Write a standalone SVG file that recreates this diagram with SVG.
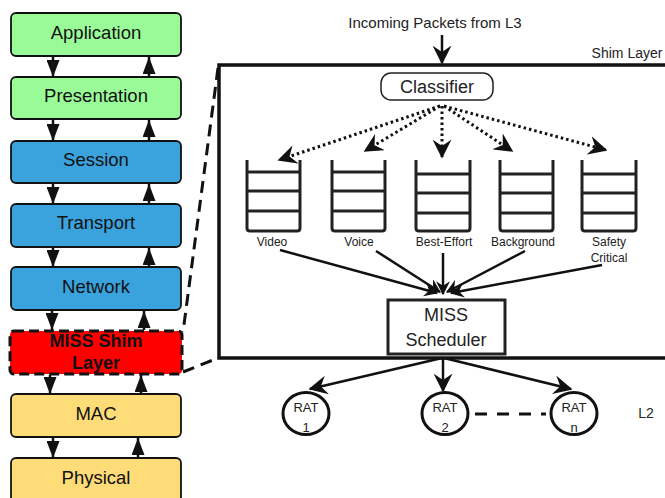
<svg xmlns="http://www.w3.org/2000/svg" width="665" height="498" viewBox="0 0 665 498">
<defs>
<style>
.lay{stroke:#111;stroke-width:1.8}
.lt{font-family:"Liberation Sans",Arial,sans-serif;font-size:18.5px;fill:#111;text-anchor:middle}
.rt{font-family:"Liberation Sans",Arial,sans-serif;fill:#222;text-anchor:middle}
.q{fill:none;stroke:#222;stroke-width:3;stroke-linejoin:round}
.ar{stroke:#111;stroke-width:2.5;fill:none}
.dot{stroke:#111;stroke-width:3;fill:none;stroke-dasharray:2.5,3}
</style>
<marker id="tri" viewBox="0 0 17 13" refX="17" refY="6.5" markerWidth="17" markerHeight="13" markerUnits="userSpaceOnUse" orient="auto"><path d="M0,0 L17,6.5 L0,13 z" fill="#111"/></marker>
<marker id="barb" viewBox="0 0 12 12" refX="11" refY="6" markerWidth="19" markerHeight="19" markerUnits="userSpaceOnUse" orient="auto"><path d="M0,0 L12,6 L0,12 L4,6 z" fill="#111"/></marker>
<marker id="barbs" viewBox="0 0 12 12" refX="11" refY="6" markerWidth="14" markerHeight="14" markerUnits="userSpaceOnUse" orient="auto"><path d="M0,0 L12,6 L0,12 L4,6 z" fill="#111"/></marker>
</defs>
<rect width="665" height="498" fill="#fff"/>

<g id="connectors">
<line class="ar" x1="53" y1="57" x2="53" y2="77" marker-end="url(#tri)"/>
<line class="ar" x1="149" y1="77" x2="149" y2="57" marker-end="url(#tri)"/>
<line class="ar" x1="53" y1="120" x2="53" y2="141" marker-end="url(#tri)"/>
<line class="ar" x1="149" y1="141" x2="149" y2="120" marker-end="url(#tri)"/>
<line class="ar" x1="53" y1="184" x2="53" y2="204" marker-end="url(#tri)"/>
<line class="ar" x1="149" y1="204" x2="149" y2="184" marker-end="url(#tri)"/>
<line class="ar" x1="53" y1="248" x2="53" y2="267" marker-end="url(#tri)"/>
<line class="ar" x1="149" y1="267" x2="149" y2="248" marker-end="url(#tri)"/>
<line class="ar" x1="52" y1="311" x2="52" y2="330" marker-end="url(#tri)"/>
<line class="ar" x1="144" y1="330" x2="144" y2="311" marker-end="url(#tri)"/>
<line class="ar" x1="50" y1="375" x2="50" y2="394" marker-end="url(#tri)"/>
<line class="ar" x1="141" y1="394" x2="141" y2="375" marker-end="url(#tri)"/>
<line class="ar" x1="53" y1="438" x2="53" y2="458" marker-end="url(#tri)"/>
<line class="ar" x1="138" y1="458" x2="138" y2="438" marker-end="url(#tri)"/>
<!-- zoom dashes -->
<line x1="218" y1="68" x2="183" y2="332" stroke="#111" stroke-width="3" stroke-dasharray="12,7"/>
<line x1="183" y1="372" x2="218" y2="358" stroke="#111" stroke-width="3" stroke-dasharray="12,7"/>
<!-- incoming -->
<line class="ar" x1="442" y1="35" x2="442" y2="63" marker-end="url(#barb)"/>
<!-- dotted classifier arrows -->
<line class="dot" x1="440" y1="106" x2="279" y2="160" marker-end="url(#barb)"/>
<line class="dot" x1="440" y1="106" x2="365" y2="151" marker-end="url(#barb)"/>
<line class="dot" x1="442" y1="106" x2="442" y2="157" marker-end="url(#barb)"/>
<line class="dot" x1="444" y1="106" x2="512" y2="151" marker-end="url(#barb)"/>
<line class="dot" x1="444" y1="106" x2="606" y2="150" marker-end="url(#barb)"/>
<!-- queues to scheduler -->
<line class="ar" x1="280" y1="250" x2="437" y2="293" marker-end="url(#barbs)"/>
<line class="ar" x1="376" y1="251" x2="440" y2="292" marker-end="url(#barbs)"/>
<line class="ar" x1="443" y1="253" x2="443" y2="294" marker-end="url(#barbs)"/>
<line class="ar" x1="525" y1="251" x2="447" y2="292" marker-end="url(#barbs)"/>
<line class="ar" x1="602" y1="265" x2="451" y2="293" marker-end="url(#barbs)"/>
<!-- scheduler to RATs -->
<line class="ar" x1="442" y1="358" x2="310" y2="389" marker-end="url(#barb)"/>
<line class="ar" x1="443" y1="358" x2="443" y2="391" marker-end="url(#barb)"/>
<line class="ar" x1="444" y1="358" x2="571" y2="389" marker-end="url(#barb)"/>
<line x1="475" y1="414" x2="546" y2="414" stroke="#111" stroke-width="3" stroke-dasharray="12,10"/>
</g>

<g id="application"><rect class="lay" x="11" y="13" width="170" height="43" rx="5" fill="#99fb98"/><text class="lt" x="96" y="38.5">Application</text></g>
<g id="presentation"><rect class="lay" x="11" y="77" width="170" height="42" rx="5" fill="#99fb98"/><text class="lt" x="96" y="102">Presentation</text></g>
<g id="session"><rect class="lay" x="11" y="141" width="170" height="42" rx="5" fill="#3aa2dc"/><text class="lt" x="96" y="166">Session</text></g>
<g id="transport"><rect class="lay" x="11" y="204" width="170" height="43" rx="5" fill="#3aa2dc"/><text class="lt" x="96" y="229">Transport</text></g>
<g id="network"><rect class="lay" x="11" y="267" width="170" height="43" rx="5" fill="#3aa2dc"/><text class="lt" x="96" y="293">Network</text></g>
<g id="miss-shim"><rect x="10" y="331" width="172" height="43" rx="4" fill="#ff0000" stroke="#111" stroke-width="3" stroke-dasharray="10,5"/><text class="lt" x="96" y="347" style="font-weight:bold;font-size:18px">MISS Shim</text><text class="lt" x="96" y="369" style="font-weight:bold;font-size:18px">Layer</text></g>
<g id="mac"><rect class="lay" x="11" y="394" width="170" height="43" rx="5" fill="#fedc78"/><text class="lt" x="96" y="420">MAC</text></g>
<g id="physical"><rect class="lay" x="11" y="458" width="170" height="45" rx="5" fill="#fedc78"/><text class="lt" x="96" y="484">Physical</text></g>

<g id="incoming"><text class="rt" x="435" y="28" style="font-size:15px">Incoming Packets from L3</text></g>
<g id="shim-layer"><rect x="219" y="65" width="452" height="293" fill="none" stroke="#111" stroke-width="3.5"/><text class="rt" x="627" y="58" style="font-size:14px">Shim Layer</text></g>
<g id="classifier"><rect x="381" y="73" width="112" height="27" rx="10" fill="#fff" stroke="#222" stroke-width="1.5"/><text class="rt" x="437" y="93" style="font-size:18px">Classifier</text></g>

<g id="q-video"><path class="q" d="M247,160 V228 Q247,231 250,231 H297 Q300,231 300,228 V160 M247,172 H300 M247,191 H300 M247,211 H300"/><text class="rt" x="272" y="246" style="font-size:12px">Video</text></g>
<g id="q-voice"><path class="q" d="M332,160 V228 Q332,231 335,231 H382 Q385,231 385,228 V160 M332,172 H385 M332,191 H385 M332,211 H385"/><text class="rt" x="359" y="246" style="font-size:12px">Voice</text></g>
<g id="q-best"><path class="q" d="M416,160 V228 Q416,231 419,231 H467 Q470,231 470,228 V160 M416,174 H470 M416,193 H470 M416,213 H470"/><text class="rt" x="444" y="246" style="font-size:12px">Best-Effort</text></g>
<g id="q-background"><path class="q" d="M500,160 V228 Q500,231 503,231 H550 Q553,231 553,228 V160 M500,174 H553 M500,193 H553 M500,213 H553"/><text class="rt" x="523" y="246" style="font-size:12px">Background</text></g>
<g id="q-safety"><path class="q" d="M582,160 V228 Q582,231 585,231 H633 Q636,231 636,228 V160 M582,174 H636 M582,193 H636 M582,213 H636"/><text class="rt" x="609" y="246" style="font-size:12px">Safety</text><text class="rt" x="609" y="262" style="font-size:12px">Critical</text></g>

<g id="scheduler"><rect x="388" y="300" width="117" height="54" fill="#fff" stroke="#222" stroke-width="3"/><text class="rt" x="446" y="321" style="font-size:18px">MISS</text><text class="rt" x="446" y="346" style="font-size:18px">Scheduler</text></g>

<g id="rat1"><ellipse cx="306" cy="413.5" rx="23" ry="21" fill="#fff" stroke="#111" stroke-width="3"/><text class="rt" x="306" y="412" style="font-size:13px">RAT</text><text class="rt" x="306" y="432" style="font-size:13px">1</text></g>
<g id="rat2"><ellipse cx="445" cy="413.5" rx="23" ry="21" fill="#fff" stroke="#111" stroke-width="3"/><text class="rt" x="445" y="412" style="font-size:13px">RAT</text><text class="rt" x="445" y="432" style="font-size:13px">2</text></g>
<g id="ratn"><ellipse cx="574" cy="413.5" rx="23" ry="21" fill="#fff" stroke="#111" stroke-width="3"/><text class="rt" x="574" y="412" style="font-size:13px">RAT</text><text class="rt" x="574" y="432" style="font-size:13px">n</text></g>
<g id="l2"><text class="rt" x="646" y="418" style="font-size:14px">L2</text></g>
</svg>
